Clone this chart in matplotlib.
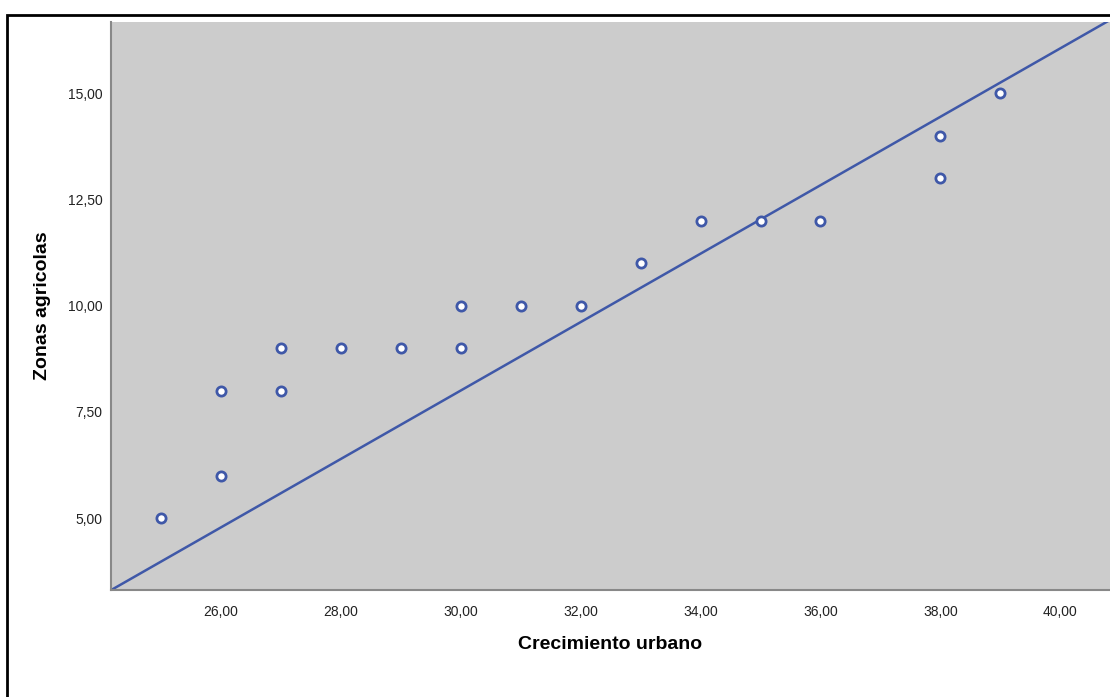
import matplotlib
matplotlib.use("Agg")
import matplotlib.pyplot as plt
from matplotlib.patches import Rectangle
from matplotlib.ticker import FuncFormatter

# data
crecimiento = [25, 26, 26, 27, 27, 28, 29, 30, 30, 31, 32, 33, 34, 35, 36, 38, 38, 39]
zonas = [5, 6, 8, 8, 9, 9, 9, 9, 10, 10, 10, 11, 12, 12, 12, 13, 14, 15]
x_ticks = [26, 28, 30, 32, 34, 36, 38, 40]
y_ticks = [5.0, 7.5, 10.0, 12.5, 15.0]
line_slope = 0.805
line_intercept = -16.15

BLUE = "#3f58a8"
plt.rcParams["font.family"] = ["Liberation Sans", "DejaVu Sans"]

fig = plt.figure(figsize=(11.1, 6.97), dpi=100)
ax = fig.add_axes([0.1, 0.1535, 0.9, 0.8149])
ax.set_facecolor("#cccccc")

xlim = (24.165, 40.83)
ylim = (3.306, 16.67)
ax.plot(xlim, [line_slope * v + line_intercept for v in xlim], color=BLUE, lw=1.8, zorder=2)
ax.scatter(crecimiento, zonas, s=44, facecolor="white", edgecolor=BLUE, linewidths=2.0, zorder=3)
ax.set_xlim(xlim)
ax.set_ylim(ylim)

ax.set_xticks(x_ticks)
ax.set_yticks(y_ticks)
fmt = FuncFormatter(lambda v, p: f"{v:.2f}".replace(".", ","))
ax.xaxis.set_major_formatter(fmt)
ax.yaxis.set_major_formatter(fmt)
ax.tick_params(length=0, labelsize=10, colors="#222222")
ax.tick_params(axis="x", pad=11)
ax.tick_params(axis="y", pad=6)

for side in ["top", "right"]:
    ax.spines[side].set_visible(False)
for side in ["left", "bottom"]:
    ax.spines[side].set_color("#888888")
    ax.spines[side].set_linewidth(1.5)

ax.set_xlabel("Crecimiento urbano", fontsize=14, fontweight="bold")
ax.set_ylabel("Zonas agricolas", fontsize=14, fontweight="bold")
ax.xaxis.set_label_coords(0.5, -0.081)
ax.yaxis.set_label_coords(-0.06, 0.5)

# outer frame like the SPSS output box
fig.patches.append(Rectangle((7 / 1110, -0.1), 1.2, 1.1 - 15 / 697, transform=fig.transFigure,
                             fill=False, edgecolor="black", lw=2, zorder=0))

fig.savefig("out.png", dpi=100)
